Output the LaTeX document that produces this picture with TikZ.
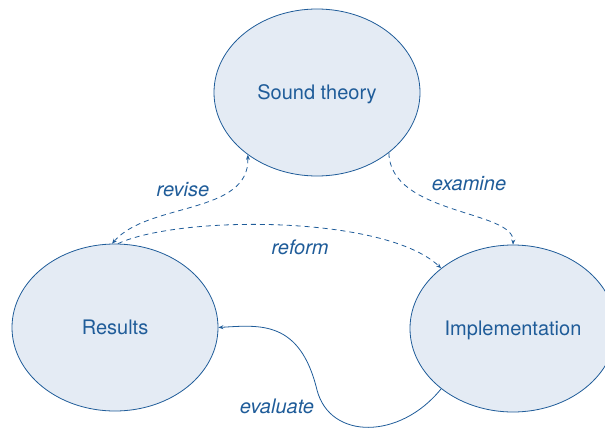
\documentclass[tikz,border=0pt]{standalone}
\usepackage{fontspec}
\setmainfont{TeX Gyre Heros}
\usetikzlibrary{shapes.geometric,arrows.meta}
\definecolor{lineblue}{HTML}{1F5C99}
\definecolor{fillblue}{HTML}{E4EBF4}
\begin{document}
\begin{tikzpicture}[x=1pt,y=-1pt,
  stage/.style={ellipse,draw=lineblue,fill=fillblue,line width=0.8pt,inner sep=0pt,
    minimum width=206pt,minimum height=167pt,text=lineblue,text depth=0pt,
    font=\fontsize{20}{24}\selectfont},
  lbl/.style={text=lineblue,font=\fontsize{20}{24}\selectfont\itshape},
  conn/.style={draw=lineblue,line width=0.8pt},
  dconn/.style={conn,dash pattern=on 5pt off 4pt}]
\path[use as bounding box] (0,0) rectangle (605,428);
\clip (0,0) rectangle (605,428);
\node[stage] (st) at (317,92.5) {Sound theory};
\node[stage] (res) at (115,327.5) {Results};
\node[stage] (imp) at (513,328.5) {Implementation};
\draw[dconn,{Stealth[length=5pt,width=4pt]}-{Stealth[length=5pt,width=4pt]}]
  (res.92) .. controls (148,202) and (250,215) .. (st.222);
\draw[dconn,-{Stealth[length=5pt,width=4pt]}]
  (st.-40) .. controls (390,215) and (515,210) .. (imp.90);
\draw[dconn,-{Stealth[length=5pt,width=4pt]}]
  (res.88) .. controls (180,215) and (385,215) .. (imp.140);
\draw[conn,-{Stealth[length=5pt,width=4pt]}]
  (imp.220) .. controls (400,440) and (330,440) .. (317,390)
  .. controls (300,320) and (260,325) .. (res.0);
\node[lbl] (lrevise) at (183,190) {revise};
\node[lbl] (lexamine) at (469,184) {examine};
\node[lbl] (lreform) at (300,247) {reform};
\node[lbl] (levaluate) at (277,406) {evaluate};
\end{tikzpicture}
\end{document}
